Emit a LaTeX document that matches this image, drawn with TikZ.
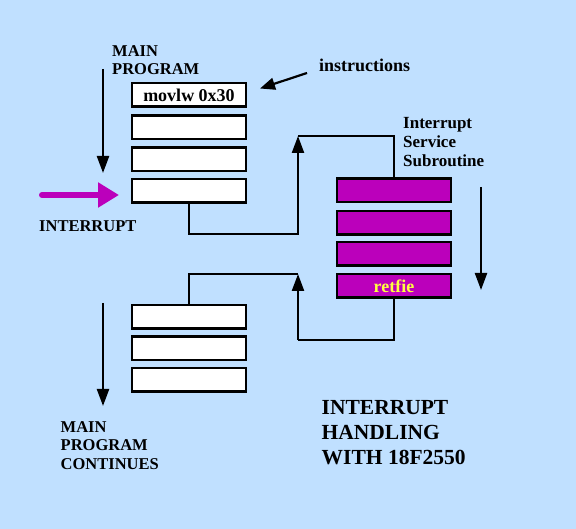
\documentclass[tikz,border=0pt]{standalone}
\usepackage{fontspec}
\setmainfont{Liberation Serif}
\usepackage{tikz}
\usetikzlibrary{positioning, arrows.meta}

\definecolor{bgblue}{RGB}{192,224,255}
\definecolor{isrpurple}{RGB}{187,0,187}
\definecolor{retyellow}{RGB}{255,255,64}

\begin{document}
\begin{tikzpicture}[
    x=1pt, y=-1pt,
    progbox/.style={rectangle, draw=black, line width=2.5pt, fill=white,
                minimum width=114pt, minimum height=23.5pt, inner sep=0pt},
    isrbox/.style={progbox, fill=isrpurple},
    label/.style={font=\bfseries\fontsize{16.5}{18.6}\selectfont, align=left, anchor=west, inner sep=0pt},
    smalltext/.style={font=\bfseries\fontsize{18}{19}\selectfont},
    wire/.style={line width=2.2pt},
    arrow/.style={-{Triangle[length=17pt, width=12pt]}, line width=2.2pt}
]

    % Background
    \fill[bgblue] (0,0) rectangle (576,529);
    \useasboundingbox (0,0) rectangle (576,529);

    % Main program boxes
    \node[progbox, smalltext] (m1) at (189,95) {movlw 0x30};
    \node[progbox] (m2) at (189,127.5) {};
    \node[progbox] (m3) at (189,159.5) {};
    \node[progbox] (m4) at (189,191) {};

    % Interrupt service subroutine boxes
    \node[isrbox] (i1) at (394,190.5) {};
    \node[isrbox] (i2) at (394,223) {};
    \node[isrbox] (i3) at (394,254) {};
    \node[isrbox, smalltext, text=retyellow] (i4) at (394,286) {retfie};

    % Main program continues boxes
    \node[progbox] (c1) at (189,317) {};
    \node[progbox] (c2) at (189,348.5) {};
    \node[progbox] (c3) at (189,380) {};

    % Labels
    \node[label] (mainlbl) at (112,60) {MAIN\\PROGRAM};
    \node[label, smalltext] (instlbl) at (319,65.5) {instructions};
    \node[label] (intlbl) at (39,226) {INTERRUPT};
    \node[label, font=\bfseries\fontsize{17}{19}\selectfont] (isrlbl) at (403,142) {Interrupt\\Service\\Subroutine};
    \node[label] (contlbl) at (60.5,445.5) {MAIN\\PROGRAM\\CONTINUES};
    \node[label, font=\bfseries\fontsize{21.5}{25}\selectfont] (title) at (321.5,433) {INTERRUPT\\HANDLING\\WITH 18F2550};

    % Free ends of arrows
    \coordinate (mpTop) at (103,69);
    \coordinate (mpEnd) at (103,173);
    \coordinate (irqStart) at (42,195);
    \coordinate (irqEnd) at (119,195);
    \coordinate (instStart) at (307,73);
    \coordinate (instEnd) at (260,88.5);
    \coordinate (isrTop) at (481,187);
    \coordinate (isrEnd) at (481,290);
    \coordinate (contTop) at (103,303);
    \coordinate (contEnd) at (103,406);

    % Jump to the subroutine
    \coordinate (goA) at (298,234);
    \coordinate (goB) at (298,136);
    \draw[arrow] (m4.south) |- (goA) -- (goB);
    \draw[wire] (goB) -| (i1.north);

    % Return from the subroutine
    \coordinate (backA) at (298,340);
    \coordinate (backB) at (298,274);
    \draw[wire] (i4.south) |- (backA);
    \draw[arrow] (backA) -- (backB);
    \draw[wire] (backB) -| (c1.north);

    % Flow arrows
    \draw[arrow] (mpTop) -- (mpEnd);
    \draw[arrow] (isrTop) -- (isrEnd);
    \draw[arrow] (contTop) -- (contEnd);
    \draw[arrow, -{Triangle[length=15pt, width=12pt]}] (instStart) -- (instEnd);
    \draw[isrpurple, line width=6pt, line cap=round, -{Triangle[length=21pt, width=24pt]}] (irqStart) -- (irqEnd);

\end{tikzpicture}
\end{document}
